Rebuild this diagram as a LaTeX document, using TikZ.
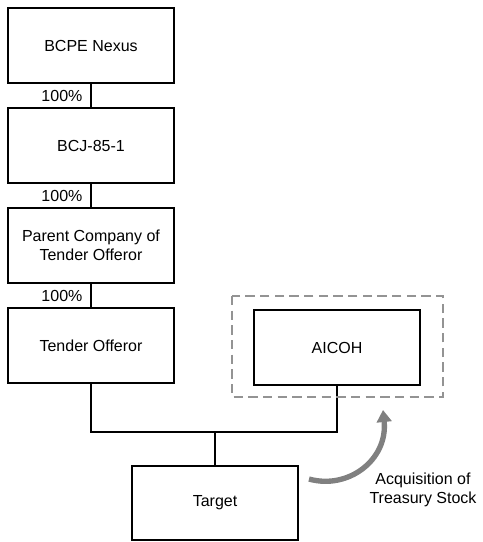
\documentclass[tikz,border=0pt]{standalone}
\usepackage{fontspec}
\setmainfont{Liberation Sans}
\usetikzlibrary{calc,arrows.meta}

\begin{document}
\begin{tikzpicture}[x=0.75pt, y=-0.75pt,
    box/.style={draw, line width=1.3pt, minimum width=124pt, minimum height=56pt, align=center, font=\fontsize{12}{14.5}\selectfont},
    share/.style={font=\fontsize{12}{14.5}\selectfont, anchor=north east, inner sep=1pt}]
    \useasboundingbox (0, 0) rectangle (482, 542);

    \node [box] (BN) at (91, 45.5) {BCPE Nexus};
    \node [box] (BJ) at ($(BN) + (0, 100)$) {BCJ-85-1};
    \node [box] (PC) at ($(BJ) + (0, 100)$) {Parent Company of\\Tender Offeror};
    \node [box] (TO) at ($(PC) + (0, 100)$) {Tender Offeror};
        \node [box] (AI) at ($(TO) + (246, 2)$) {AICOH};
    \node [box] (TG) at (215, 503) {Target};

    \draw [line width=1.3pt] (BN) -- (BJ);
        \node [share] (S1) at ($(BN.south) + (-7, 5)$) {100\%};
    \draw [line width=1.3pt] (BJ) -- (PC);
        \node [share] (S2) at ($(BJ.south) + (-7, 5)$) {100\%};
    \draw [line width=1.3pt] (PC) -- (TO);
        \node [share] (S3) at ($(PC.south) + (-7, 5)$) {100\%};

    \coordinate (J) at (215, 432);
    \draw [line width=1.3pt] (TO.south) |- (J) -| (AI.south);
    \draw [line width=1.3pt] (J) -- (TG.north);

    \draw [line width=2.2pt, color=gray!85, dash pattern=on 7pt off 4pt] (232, 296) rectangle (443, 397);

    \coordinate (T) at (309, 479);
    \coordinate (H) at (383, 410);
    \draw [line width=4pt, color=gray, -{Triangle[length=9pt, width=11pt]}] (T) .. controls (348, 490) and (388, 460) .. (H);
    \node [font=\fontsize{12}{14.5}\selectfont, align=center] (AQ) at (423, 490) {Acquisition of\\Treasury Stock};
\end{tikzpicture}
\end{document}
